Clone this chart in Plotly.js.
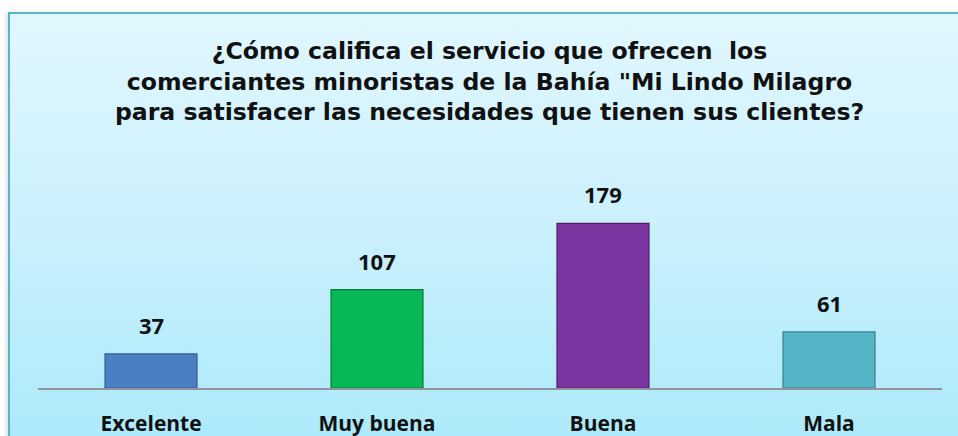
<!DOCTYPE html>
<html>
<head>
<meta charset="utf-8">
<script src="https://cdn.plot.ly/plotly-3.0.1.min.js"></script>
<style>
  html, body { margin: 0; padding: 0; background: #ffffff; overflow: hidden; }
  #frame {
    position: absolute; left: 8px; top: 12px; width: 970px; height: 450px;
    border: 2px solid #5bb3cb;
    background: linear-gradient(to bottom, #e1f7fe 0%, #c9f0fc 50%, #a9e9fb 100%);
    box-shadow: -2px 0 4px rgba(0,0,0,0.12);
  }
  #chart { position: absolute; left: 0; top: 0; width: 958px; height: 436px; }
</style>
</head>
<body>
<div id="frame"></div>
<div id="chart"></div>
<script>
const categories = ["Excelente", "Muy buena", "Buena", "Mala"];
const values = [37, 107, 179, 61];
const barColors = ["#4a7fc4", "#08b855", "#7a35a1", "#55b4c6"];
const barEdges = ["#2f5d94", "#067d3a", "#4e1e6b", "#3a7f8c"];
const titleText = "¿Cómo califica el servicio que ofrecen  los<br>comerciantes minoristas de la Bahía \"Mi Lindo Milagro<br>para satisfacer las necesidades que tienen sus clientes?";

const trace = {
  type: "bar",
  x: categories,
  y: values,
  marker: { color: barColors, line: { color: barEdges, width: 1.2 } },
  hoverinfo: "x+y"
};

const annotations = categories.map((c, i) => ({
  x: c, y: values[i], xref: "x", yref: "y",
  text: String(values[i]),
  showarrow: false, yanchor: "bottom", yshift: 12,
  font: { family: "Open Sans", size: 22, color: "#111111", weight: 700 }
}));

const layout = {
  width: 958, height: 436,
  paper_bgcolor: "rgba(0,0,0,0)",
  plot_bgcolor: "rgba(0,0,0,0)",
  margin: { l: 38, r: 16, t: 204, b: 48 },
  showlegend: false,
  bargap: 0.593,
  title: {
    text: titleText,
    x: 0.511, xanchor: "center",
    y: 1 - 59 / 436, yanchor: "middle", yref: "container",
    font: { family: "DejaVu Sans", size: 23.6, color: "#111111", weight: 700 }
  },
  xaxis: {
    showline: true, linecolor: "#8e9699", linewidth: 1.5,
    ticks: "", showgrid: false, zeroline: false,
    ticklabelstandoff: 16,
    tickfont: { family: "Open Sans", size: 21, color: "#111111", weight: 700 }
  },
  yaxis: {
    range: [0, 200], visible: false, showgrid: false, zeroline: false
  },
  annotations: annotations
};

Plotly.newPlot("chart", [trace], layout, { displayModeBar: false, staticPlot: true });
</script>
</body>
</html>
